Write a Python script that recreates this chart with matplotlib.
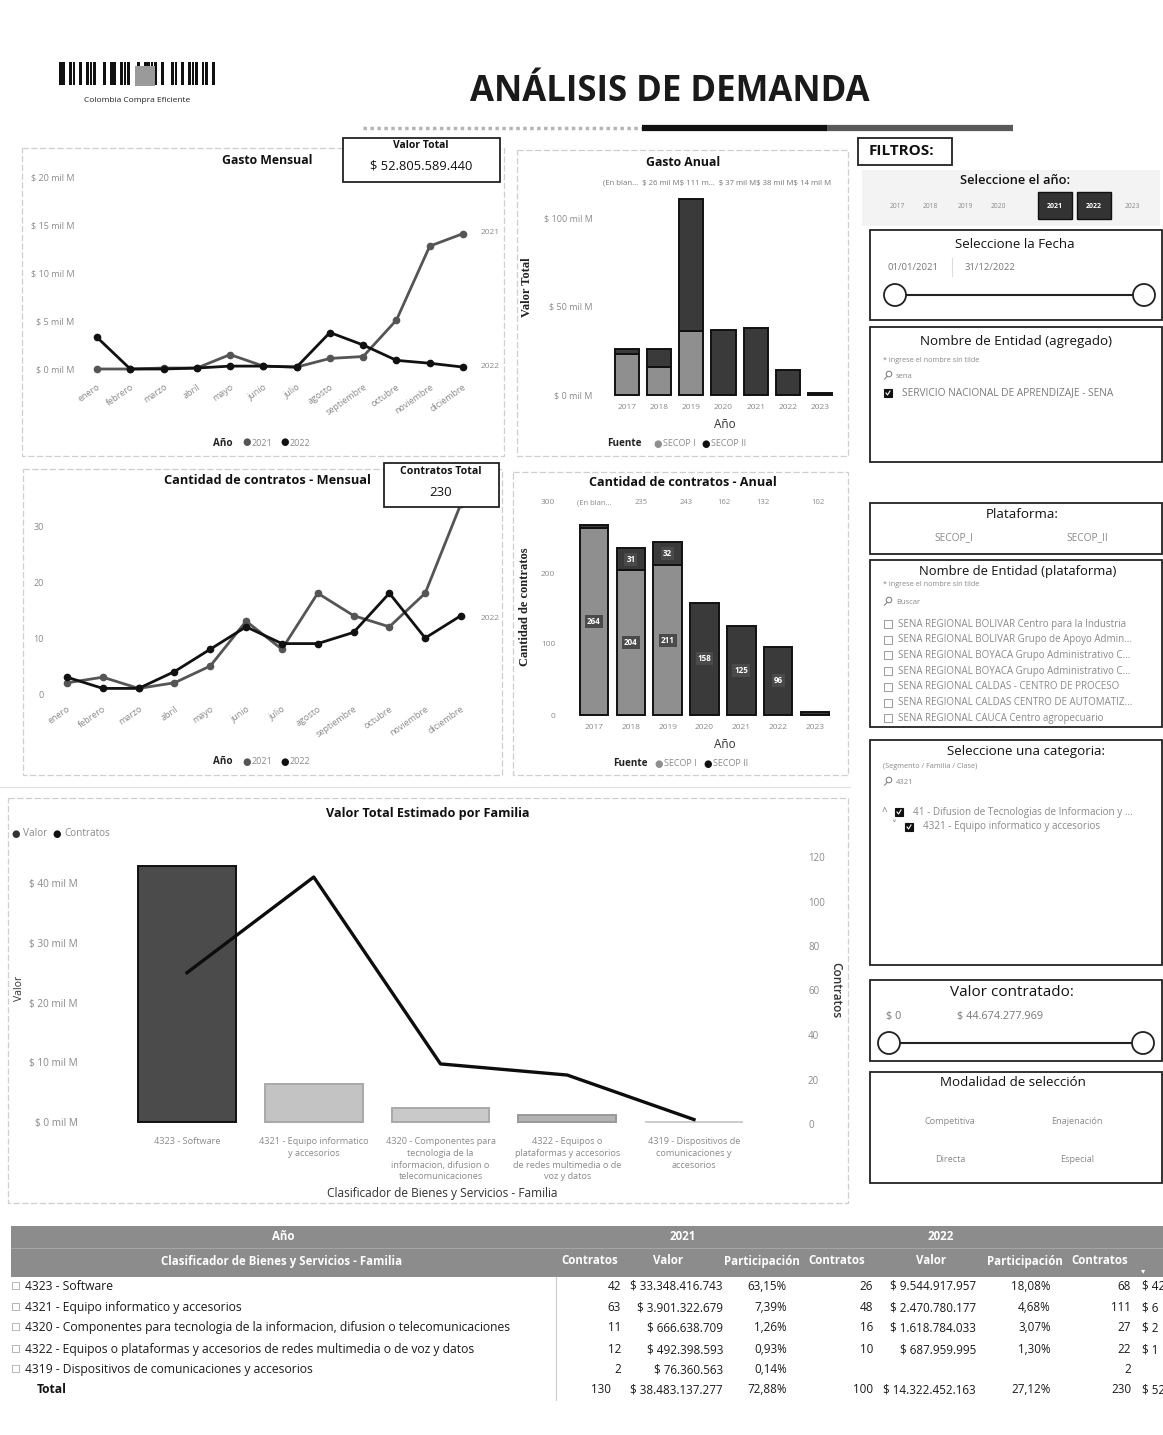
import numpy as np
import matplotlib
matplotlib.use("Agg")
import matplotlib.pyplot as plt
from matplotlib.patches import Rectangle, Circle

W, H = 1163, 1435
plt.rcParams['font.family'] = ['Open Sans', 'DejaVu Sans']
plt.rcParams['axes.unicode_minus'] = False

# ---------------- data ----------------
meses = ["enero", "febrero", "marzo", "abril", "mayo", "junio", "julio",
         "agosto", "septiembre", "octubre", "noviembre", "diciembre"]
gasto_2021 = [0.0, 0.0, 0.1, 0.1, 1.5, 0.3, 0.2, 1.1, 1.3, 5.1, 12.8, 14.1]
gasto_2022 = [3.3, 0.0, 0.0, 0.1, 0.3, 0.3, 0.2, 3.8, 2.5, 0.9, 0.6, 0.2]
contratos_2021 = [2, 3, 1, 2, 5, 13, 8, 18, 14, 12, 18, 34]
contratos_2022 = [3, 1, 1, 4, 8, 12, 9, 9, 11, 18, 10, 14]
gasto_ticks = [0, 5, 10, 15, 20]
contratos_ticks = [0, 10, 20, 30]

anios = ["2017", "2018", "2019", "2020", "2021", "2022", "2023"]
anios_sel = ["2021", "2022"]
gasto_anual_secop1 = [23, 16, 36, 0, 0, 0, 0]
gasto_anual_secop2 = [3, 10, 75, 37, 38, 14, 1]
cant_anual_secop1 = [264, 204, 211, 0, 0, 0, 0]
cant_anual_secop2 = [4, 31, 32, 158, 125, 96, 4]
gasto_anual_ticks = [0, 50, 100]
cant_anual_ticks = [0, 100, 200, 300]
gasto_anual_rotulos = "(En blan...  $ 26 mil M$ 111 m...  $ 37 mil M$ 38 mil M$ 14 mil M"
cant_anual_rotulos = ["(En blan...", "235", "243", "162", "132", "102"]

familias = ["4323 - Software",
            "4321 - Equipo informatico y accesorios",
            "4320 - Componentes para tecnologia de la informacion, difusion o telecomunicaciones",
            "4322 - Equipos o plataformas y accesorios de redes multimedia o de voz y datos",
            "4319 - Dispositivos de comunicaciones y accesorios"]
familias_eje = ["4323 - Software",
                "4321 - Equipo informatico\ny accesorios",
                "4320 - Componentes para\ntecnologia de la\ninformacion, difusion o\ntelecomunicaciones",
                "4322 - Equipos o\nplataformas y accesorios\nde redes multimedia o de\nvoz y datos",
                "4319 - Dispositivos de\ncomunicaciones y\naccesorios"]
contratos_fam_2021 = [42, 63, 11, 12, 2]
contratos_fam_2022 = [26, 48, 16, 10, None]
valor_fam_2021 = [33348416743, 3901322679, 666638709, 492398593, 76360563]
valor_fam_2022 = [9544917957, 2470780177, 1618784033, 687959995, None]
total_contratos = [130, 100]
total_valor = [38483137277, 14322452163]
familia_valor_ticks = [0, 10, 20, 30, 40]
familia_contr_ticks = [0, 20, 40, 60, 80, 100, 120]

plataformas = ["SECOP_I", "SECOP_II"]
entidades_plataforma = ["SENA REGIONAL BOLIVAR Centro para la Industria",
                        "SENA REGIONAL BOLIVAR Grupo de Apoyo Admin...",
                        "SENA REGIONAL BOYACA Grupo Administrativo C...",
                        "SENA REGIONAL BOYACA Grupo Administrativo C...",
                        "SENA REGIONAL CALDAS - CENTRO DE PROCESO",
                        "SENA REGIONAL CALDAS CENTRO DE AUTOMATIZ...",
                        "SENA REGIONAL CAUCA Centro agropecuario"]
modalidades = ["Competitiva", "Enajenación", "Directa", "Especial"]
fecha_rango = ["01/01/2021", "31/12/2022"]
valor_rango = ["$ 0", "$ 44.674.277.969"]

gran_total = sum(total_valor)


def pesos(v):
    return "$ " + f"{v:,}".replace(",", ".")


def pct(v):
    return f"{v / gran_total * 100:.2f}".replace(".", ",") + "%"


# ---------------- colours ----------------
C21 = '#555555'
C22 = '#111111'
GS1 = '#8f8f8f'
GS2 = '#3a3a3a'
TICK = '#8a8a8a'
BORDER = '#cfcfcf'

fig = plt.figure(figsize=(W / 100, H / 100), dpi=100)
fig.patch.set_facecolor('white')


def lim_from(a0, a1, pa, pb):
    (v0, p0), (v1, p1) = pa, pb
    s = (p1 - p0) / (v1 - v0)
    return v0 + (a0 - p0) / s, v0 + (a1 - p0) / s


def map_axes(L, T, R, B, xa, xb, ya, yb, ls=6.5):
    ax = fig.add_axes([L / W, 1 - B / H, (R - L) / W, (B - T) / H])
    ax.set_xlim(*lim_from(L, R, xa, xb))
    ax.set_ylim(*lim_from(B, T, ya, yb))
    for sp in ax.spines.values():
        sp.set_visible(False)
    ax.patch.set_visible(False)
    ax.tick_params(length=0, labelsize=ls, labelcolor=TICK)
    return ax


# ---------------- overlay (pixel coordinates) ----------------
ov = fig.add_axes([0, 0, 1, 1], zorder=10)
ov.set_xlim(0, W)
ov.set_ylim(H, 0)
ov.axis('off')
ov.patch.set_alpha(0)


def T(x, y, s, size=6, color='#333333', ha='center', va='center', weight='normal', **kw):
    ov.text(x, y, s, fontsize=size, color=color, ha=ha, va=va, fontweight=weight, **kw)


def box(x0, y0, x1, y1, ec='#222222', lw=1.3, fc='none', ls='-', z=2):
    ov.add_patch(Rectangle((x0, y0), x1 - x0, y1 - y0, ec=ec, fc=fc, lw=lw, ls=ls, zorder=z))


def panel(x0, y0, x1, y1):
    box(x0, y0, x1, y1, ec=BORDER, lw=0.9, ls=(0, (5, 2)))


def legend_row(x, y, title, items, dots, gap=5, size=6.5):
    T(x, y, title, size=size + 0.6, color='#222222', ha='left', weight='bold')
    for (lab, col), dx in zip(items, dots):
        T(dx, y, "●", size=7, color=col)
        T(dx + gap, y, lab, size=size, color=TICK, ha='left')


def search_icon(x, y):
    ov.add_patch(Circle((x + 2, y - 2), 2.8, fc='none', ec='#777777', lw=0.7))
    ov.plot([x - 2.5, x + 0.2], [y + 3.2, y + 0.3], color='#777777', lw=0.7)


def checkbox(x, y, checked, size=8):
    if checked:
        box(x, y - size / 2, x + size, y + size / 2, ec='#111111', fc='#111111', lw=0.8)
        ov.plot([x + 2, x + 3.5, x + 6], [y, y + 2, y - 2], color='white', lw=0.8)
    else:
        box(x, y - size / 2, x + size, y + size / 2, ec='#9a9a9a', fc='none', lw=0.7)


def slider(x0, x1, y, r=11):
    ov.plot([x0 + r, x1 - r], [y, y], color='#222222', lw=1.5)
    for cx in (x0, x1):
        ov.add_patch(Circle((cx, y), r, fc='white', ec='#222222', lw=1.3, zorder=3))


# ---------------- header ----------------
bar_pattern = "1101101011100101101110010111101001101011101101"
bx = 59
for ch in bar_pattern:
    if ch == '1':
        ov.add_patch(Rectangle((bx, 62), 2.6, 23, fc='#111111', ec='none'))
    bx += 3.4
ov.add_patch(Rectangle((135, 66), 20, 20, fc='#9a9a9a', ec='none'))
T(137, 101, "Colombia Compra Eficiente", size=6, color='#222222')
T(670, 92, "ANÁLISIS DE DEMANDA", size=25, color='#1a1a1a', weight='bold')
ov.plot([363, 642], [128, 128], color='#b5b5b5', lw=2.5, ls=(0, (1, 1)))
ov.plot([642, 827], [128, 128], color='#111111', lw=4.5, solid_capstyle='butt')
ov.plot([827, 1013], [128, 128], color='#5a5a5a', lw=4.5, solid_capstyle='butt')

# ---------------- Gasto Mensual ----------------
panel(22, 148, 504, 456)
x12 = np.arange(len(meses))
ax = map_axes(80, 160, 480, 378, (0, 97), (11, 463), (0, 369), (20, 177))
ax.plot(x12, gasto_2021, color=C21, lw=2, marker='o', ms=4.5)
ax.plot(x12, gasto_2022, color=C22, lw=2, marker='o', ms=4.5)
ax.set_yticks(gasto_ticks, [f"$ {v} mil M" for v in gasto_ticks])
ax.set_xticks(x12, meses, rotation=35, ha='right', rotation_mode='anchor')
ax.tick_params(axis='y', pad=4)
ax.tick_params(axis='x', pad=3)
T(267, 160, "Gasto Mensual", size=8.8, color='#111111', weight='bold')
T(490, 233, "2021", size=6, color=TICK)
T(490, 367, "2022", size=6, color=TICK)
legend_row(213, 443, "Año", [("2021", C21), ("2022", C22)], [247, 285])
box(343, 138, 500, 182, ec='#222222', lw=1.3, fc='white', z=4)
T(421, 146, "Valor Total", size=7.5, color='#111111', weight='bold', zorder=5)
T(421, 166, pesos(gran_total), size=9.3, color='#111111', zorder=5)

# ---------------- Gasto Anual ----------------
panel(517, 150, 848, 456)
x7 = np.arange(len(anios))
ax = map_axes(598, 190, 842, 400, (0, 627), (6, 820), (0, 395), (100, 218))
s1 = np.array(gasto_anual_secop1, float)
s2 = np.array(gasto_anual_secop2, float)
m1 = s1 > 0
ax.bar(x7[m1], s1[m1], width=0.75, color=GS1, edgecolor='#111111', lw=1.4)
ax.bar(x7, s2, bottom=s1, width=0.75, color=GS2, edgecolor='#111111', lw=1.4)
ax.set_yticks(gasto_anual_ticks, [f"$ {v} mil M" for v in gasto_anual_ticks])
ax.set_xticks(x7, anios)
ax.tick_params(axis='y', pad=4)
ax.tick_params(axis='x', pad=3, labelsize=6)
T(683, 162, "Gasto Anual", size=8.8, color='#111111', weight='bold')
T(717, 183, gasto_anual_rotulos, size=5.6, color='#777777')
T(527, 287, "Valor Total", size=9, color='#222222', weight='bold', rotation=90,
  family=['Liberation Serif', 'DejaVu Serif'])
T(725, 424, "Año", size=8.5, color='#333333')
legend_row(607, 444, "Fuente", [("SECOP I", GS1), ("SECOP II", C22)], [658, 706])

# ---------------- Cantidad de contratos - Mensual ----------------
panel(23, 469, 502, 775)
ax = map_axes(55, 480, 478, 700, (0, 67), (11, 461), (0, 694), (30, 526))
ax.plot(x12, contratos_2021, color=C21, lw=2, marker='o', ms=4.5)
ax.plot(x12, contratos_2022, color=C22, lw=2, marker='o', ms=4.5)
ax.set_yticks(contratos_ticks, [str(v) for v in contratos_ticks])
ax.set_xticks(x12, meses, rotation=35, ha='right', rotation_mode='anchor')
ax.tick_params(axis='y', pad=8)
ax.tick_params(axis='x', pad=3)
T(267, 481, "Cantidad de contratos - Mensual", size=9.2, color='#111111', weight='bold')
T(490, 619, "2022", size=6, color=TICK)
legend_row(213, 762, "Año", [("2021", C21), ("2022", C22)], [247, 285])
box(384, 463, 499, 507, ec='#222222', lw=1.3, fc='white', z=4)
T(441, 471, "Contratos Total", size=7.6, color='#111111', weight='bold', zorder=5)
T(441, 492, str(sum(total_contratos)), size=9.5, color='#111111', zorder=5)

# ---------------- Cantidad de contratos - Anual ----------------
panel(513, 472, 848, 775)
ax = map_axes(562, 496, 842, 720, (0, 594), (6, 815), (0, 715), (100, 644))
c1 = np.array(cant_anual_secop1, float)
c2 = np.array(cant_anual_secop2, float)
m1 = c1 > 0
ax.bar(x7[m1], c1[m1], width=0.77, color=GS1, edgecolor='#111111', lw=1.4)
ax.bar(x7, c2, bottom=c1, width=0.77, color=GS2, edgecolor='#111111', lw=1.4)
lab_kw = dict(ha='center', va='center', fontsize=5.8, color='white', fontweight='bold',
              bbox=dict(boxstyle='square,pad=0.25', fc='#4a4a4a', ec='none'))
for i in range(len(anios)):
    if c1[i] >= 20:
        ax.text(i, c1[i] / 2, f"{int(c1[i])}", **lab_kw)
    if c2[i] >= 20:
        ax.text(i, c1[i] + c2[i] / 2, f"{int(c2[i])}", **lab_kw)
ax.set_yticks(cant_anual_ticks, [str(v) for v in cant_anual_ticks])
ax.set_xticks(x7, anios)
ax.tick_params(axis='y', pad=5, labelsize=6)
ax.tick_params(axis='x', pad=3, labelsize=6)
T(683, 483, "Cantidad de contratos - Anual", size=9.1, color='#111111', weight='bold')
for xp, lab in zip([594, 641, 686, 724, 763, 818], cant_anual_rotulos):
    T(xp, 503, lab, size=5.5, color='#8a8a8a')
T(525, 607, "Cantidad de contratos", size=9, color='#222222', weight='bold', rotation=90,
  family=['Liberation Serif', 'DejaVu Serif'])
T(725, 745, "Año", size=8.5, color='#333333')
legend_row(613, 764, "Fuente", [("SECOP I", GS1), ("SECOP II", C22)], [659, 708])

# ---------------- Valor Total Estimado por Familia ----------------
panel(8, 798, 848, 1203)
ov.plot([0, 850], [787, 787], color='#dddddd', lw=0.8)
val_tot = [a + (b or 0) for a, b in zip(valor_fam_2021, valor_fam_2022)]
con_tot = [a + (b or 0) for a, b in zip(contratos_fam_2021, contratos_fam_2022)]
x5 = np.arange(len(familias))
ax = map_axes(92, 840, 790, 1130, (0, 187), (4, 694), (0, 1122), (40, 883), ls=7.2)
fam_colors = ['#4b4b4b', '#c3c3c3', '#c9c9c9', '#b3b3b3', '#dcdcdc']
fam_edges = ['#111111', '#a9a9a9', '#a9a9a9', '#999999', '#cccccc']
ax.bar(x5, np.array(val_tot) / 1e9, width=0.77, color=fam_colors, edgecolor=fam_edges, lw=1.4)
ax.set_yticks(familia_valor_ticks, [f"$ {v} mil M" for v in familia_valor_ticks])
ax.set_xticks(x5, familias_eje, fontsize=6.6, linespacing=1.4, va='top')
ax.tick_params(axis='y', pad=10)
ax.tick_params(axis='x', pad=5)
ax2 = ax.twinx()
ax2.set_ylim(*lim_from(1130, 840, (0, 1124), (120, 857)))
for sp in ax2.spines.values():
    sp.set_visible(False)
ax2.patch.set_visible(False)
ax2.plot(x5, con_tot, color='#0d0d0d', lw=2.4)
ax2.set_yticks(familia_contr_ticks, [str(v) for v in familia_contr_ticks])
ax2.tick_params(length=0, labelsize=7, labelcolor=TICK, pad=13)
T(428, 813, "Valor Total Estimado por Familia", size=9.1, color='#111111', weight='bold')
T(19, 988, "Valor", size=7.5, color='#333333', rotation=90)
T(836, 990, "Contratos", size=8.5, color='#333333', rotation=270, weight='semibold')
T(442, 1194, "Clasificador de Bienes y Servicios - Familia", size=8.6, color='#333333')
legend_row(8, 834, "", [("Valor", '#333333'), ("Contratos", '#111111')], [16, 57], gap=7, size=7.2)

# ---------------- Filtros ----------------
box(858, 138, 952, 165)
T(869, 151, "FILTROS:", size=11, color='#111111', ha='left', weight='bold')

ov.add_patch(Rectangle((862, 170), 298, 56, fc='#f3f3f3', ec='none'))
T(1015, 180, "Seleccione el año:", size=9.3, color='#111111', weight='semibold')
year_x = [897, 930, 965, 998, 1055, 1094, 1132]
for xp, a in zip(year_x, anios):
    if a in anios_sel:
        box(xp - 17, 192, xp + 17, 219, ec='#111111', fc='#333333', lw=1)
        T(xp, 206, a, size=5, color='white', weight='bold')
    else:
        T(xp, 206, a, size=4.8, color='#8a8a8a')

box(870, 230, 1162, 320)
T(1015, 244, "Seleccione la Fecha", size=9.5, color='#111111')
T(913, 267, fecha_rango[0], size=6.8, color='#777777')
T(990, 267, fecha_rango[1], size=6.8, color='#777777')
ov.plot([952, 952], [258, 276], color='#dddddd', lw=0.8)
slider(895, 1144, 295)

box(870, 327, 1162, 462)
T(1016, 341, "Nombre de Entidad (agregado)", size=9.6, color='#111111')
T(883, 360, "* ingrese el nombre sin tilde", size=5.2, color='#888888', ha='left')
search_icon(887, 376)
T(896, 376, "sena", size=5.5, color='#888888', ha='left')
checkbox(884, 393, True)
T(902, 393, "SERVICIO NACIONAL DE APRENDIZAJE - SENA", size=7.3, color='#7a7a7a', ha='left')

box(870, 503, 1162, 554)
T(1022, 514, "Plataforma:", size=9.6, color='#111111')
T(954, 538, plataformas[0], size=7.3, color='#8a8a8a')
T(1087, 538, plataformas[1], size=7.3, color='#8a8a8a')

box(870, 560, 1162, 727)
T(1018, 571, "Nombre de Entidad (plataforma)", size=9.4, color='#111111')
T(883, 585, "* ingrese el nombre sin tilde", size=5.2, color='#888888', ha='left')
search_icon(887, 602)
T(896, 602, "Buscar", size=5.5, color='#888888', ha='left')
for i, ent in enumerate(entidades_plataforma):
    yy = 624 + i * 15.7
    checkbox(884, yy, False)
    T(898, yy, ent, size=7, color='#8a8a8a', ha='left')

box(870, 740, 1162, 965)
T(1026, 751, "Seleccione una categoria:", size=9.6, color='#111111')
T(883, 766, "(Segmento / Familia / Clase)", size=5.2, color='#888888', ha='left')
search_icon(887, 782)
T(896, 782, "4321", size=5.5, color='#888888', ha='left')
T(884, 813, "^", size=7, color='#777777')
checkbox(895, 812, True)
T(913, 812, "41 - Difusion de Tecnologias de Informacion y ...", size=7.1, color='#8a8a8a', ha='left')
T(894, 826, "˅", size=7, color='#777777')
checkbox(905, 827, True)
T(923, 827, "4321 - Equipo informatico y accesorios", size=7.1, color='#8a8a8a', ha='left')

box(870, 980, 1162, 1061)
T(1012, 993, "Valor contratado:", size=11, color='#111111')
T(886, 1016, valor_rango[0], size=7.8, color='#777777', ha='left')
T(957, 1016, valor_rango[1], size=7.8, color='#777777', ha='left')
slider(889, 1143, 1043)

box(870, 1072, 1162, 1183)
T(1013, 1082, "Modalidad de selección", size=9.6, color='#111111')
for (xp, yp), mod in zip([(950, 1122), (1077, 1122), (950, 1160), (1077, 1160)], modalidades):
    T(xp, yp, mod, size=6.6, color='#8a8a8a')

# ---------------- Table ----------------
ov.add_patch(Rectangle((11, 1226), 1152, 51, fc='#8c8c8c', ec='none'))
ov.plot([11, 1163], [1248, 1248], color='#a5a5a5', lw=0.8)
HW = dict(size=8.3, color='white', weight='bold')
T(283, 1237, "Año", **HW)
T(683, 1237, "2021", **HW)
T(941, 1237, "2022", **HW)
T(282, 1261, "Clasificador de Bienes y Servicios - Familia", **HW)
for xp, lab in zip([590, 668, 762, 837, 931, 1025, 1100],
                   ["Contratos", "Valor", "Participación", "Contratos", "Valor",
                    "Participación", "Contratos"]):
    T(xp, 1261, lab, **HW)
T(1143, 1272, "▾", size=6, color='white')
ov.plot([556, 556], [1277, 1400], color='#cccccc', lw=0.8)

row_y = [1290, 1311, 1331, 1353, 1373, 1393]
col_r = [621, 723, 787, 873, 976, 1051, 1131]
FS = 8.4
RK = dict(size=FS, color='#1a1a1a', ha='right', va='baseline')
LK = dict(size=FS, color='#1a1a1a', ha='left', va='baseline')


def corto(v):
    return pesos(v)[:4].rstrip('.')


for i, fam in enumerate(familias):
    y = row_y[i]
    box(12, y - 8, 19, y - 1, ec='#aaaaaa', lw=0.6)
    T(25, y, fam, size=FS + 0.3, color='#1a1a1a', ha='left', va='baseline')
    T(col_r[0], y, str(contratos_fam_2021[i]), **RK)
    T(col_r[1], y, pesos(valor_fam_2021[i]), **RK)
    T(col_r[2], y, pct(valor_fam_2021[i]), **RK)
    if contratos_fam_2022[i] is not None:
        T(col_r[3], y, str(contratos_fam_2022[i]), **RK)
        T(col_r[4], y, pesos(valor_fam_2022[i]), **RK)
        T(col_r[5], y, pct(valor_fam_2022[i]), **RK)
    T(col_r[6], y, str(con_tot[i]), **RK)
    if contratos_fam_2022[i] is not None:
        T(1142, y, corto(val_tot[i]), **LK)
y = row_y[-1]
T(37, y, "Total", size=FS + 0.3, color='#111111', ha='left', va='baseline', weight='bold')
T(col_r[0] - 10, y, str(total_contratos[0]), **RK)
T(col_r[1], y, pesos(total_valor[0]), **RK)
T(col_r[2], y, pct(total_valor[0]), **RK)
T(col_r[3], y, str(total_contratos[1]), **RK)
T(col_r[4], y, pesos(total_valor[1]), **RK)
T(col_r[5], y, pct(total_valor[1]), **RK)
T(col_r[6], y, str(sum(total_contratos)), **RK)
T(1142, y, corto(gran_total), **LK)

fig.savefig("out.png", dpi=100, facecolor='white')
